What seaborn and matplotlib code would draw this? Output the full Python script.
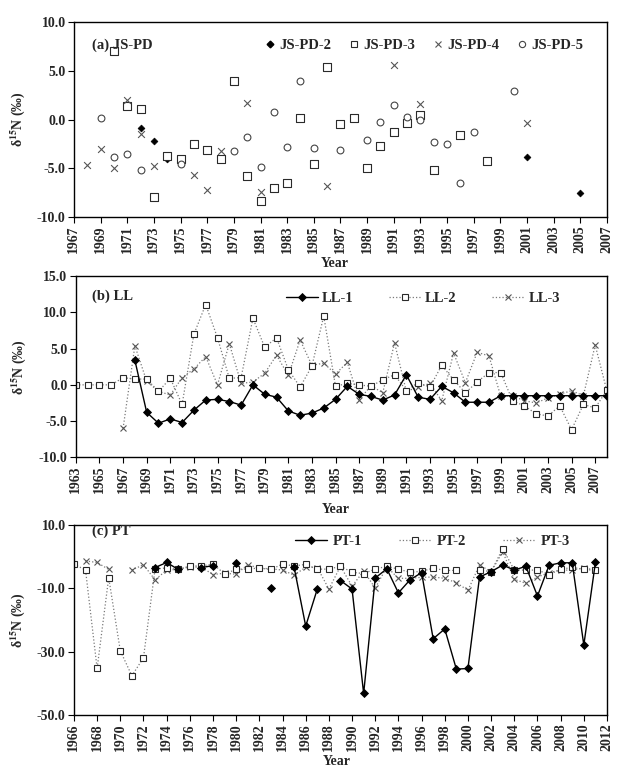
import matplotlib

matplotlib.use("Agg")
import matplotlib.pyplot as plt
import numpy as np
import pandas as pd
import seaborn as sns
from matplotlib.lines import Line2D

# ---- (a) JS-PD : scattered points only ----
pd2_years = [1972, 1973, 1974, 1975, 2001, 2005]
pd2_vals = [-0.9, -2.2, -4.1, -4.4, -3.8, -7.5]

pd3_years = [1970, 1971, 1972, 1973, 1974, 1975, 1976, 1977, 1978, 1979, 1980,
             1981, 1982, 1983, 1984, 1985, 1986, 1987, 1988, 1989, 1990, 1991,
             1992, 1993, 1994, 1996, 1998]
pd3_vals = [7.0, 1.4, 1.1, -7.9, -3.7, -4.0, -2.5, -3.1, -4.0, 4.0, -5.8,
            -8.4, -7.0, -6.5, 0.2, -4.6, 5.4, -0.5, 0.2, -5.0, -2.7, -1.3,
            -0.4, 0.5, -5.2, -1.6, -4.3]

pd4_years = [1968, 1969, 1970, 1971, 1972, 1973, 1976, 1977, 1978, 1980, 1981,
             1986, 1991, 1993, 2001]
pd4_vals = [-4.7, -3.0, -5.0, 2.0, -1.5, -4.8, -5.7, -7.2, -3.2, 1.7, -7.4,
            -6.8, 5.6, 1.6, -0.4]

pd5_years = [1969, 1970, 1971, 1972, 1975, 1979, 1980, 1981, 1982, 1983, 1984,
             1985, 1987, 1989, 1990, 1991, 1992, 1993, 1994, 1995, 1996, 1997,
             2000]
pd5_vals = [0.2, -3.8, -3.5, -5.2, -4.6, -3.2, -1.8, -4.9, 0.8, -2.8, 4.0,
            -2.9, -3.1, -2.1, -0.3, 1.5, 0.3, -0.1, -2.3, -2.5, -6.5, -1.3,
            2.9]

# ---- (b) LL : 1963-2008 ----
nan = np.nan
ll_years = list(range(1963, 2009))
ll1 = [nan, nan, nan, nan, nan,
       3.4, -3.8, -5.3, -4.7, -5.2, -3.5, -2.1, -2.0, -2.3, -2.8,
       0.0, -1.3, -1.7, -3.6, -4.2, -3.9, -3.2, -2.0, -0.2, -1.3,
       -1.6, -2.1, -1.4, 1.4, -1.7, -2.0, -0.2, -1.1, -2.4, -2.4,
       -2.4, -1.5, -1.5, -1.5, -1.5, -1.5, -1.5, -1.5, -1.5, -1.5, -1.5]
ll2 = [0.0, 0.0, 0.0, 0.0, 1.0,
       0.8, 0.8, -0.9, 0.9, -2.7, 7.0, 11.1, 6.5, 0.9, 1.0,
       9.2, 5.2, 6.5, 2.1, -0.3, 2.6, 9.5, -0.2, 0.2, 0.0,
       -0.2, 0.7, 1.4, -0.8, 0.3, -0.3, 2.7, 0.7, -1.1, 0.4,
       1.7, 1.7, -2.2, -2.9, -4.0, -4.3, -2.9, -6.2, -2.7, -3.2, -0.7]
ll3 = [nan, nan, nan, nan, -6.0,
       5.4, 0.5, -0.9, -1.4, 1.0, 2.2, 3.9, 0.0, 5.7, 0.2,
       0.4, 1.6, 4.1, 1.3, 6.2, 2.7, 3.0, 1.5, 3.1, -2.1,
       -0.1, -1.1, 5.8, -0.9, -0.3, 0.2, -2.2, 4.4, 0.3, 4.5,
       4.0, -1.6, -1.5, -2.2, -2.5, -1.8, -1.3, -0.8, -1.5, 5.5, -0.9]

# ---- (c) PT : 1966-2011 ----
pt_years = list(range(1966, 2012))
pt1 = [nan, nan, nan, nan, nan, nan, nan,
       -3.4, -1.8, -4.0, nan, -3.4, -2.8, nan, -1.9, nan, nan, -10.0, nan,
       -3.3, -21.9, -10.2, nan, -7.5, -10.2, -43.2, -6.7, -3.8, -11.4,
       -7.3, -5.0, -25.9, -22.8, -35.5, -35.3, -6.4, -4.7, -2.6, -4.2,
       -3.0, -12.4, -2.7, -1.9, -1.9, -27.9, -1.8]
pt2 = [-2.3, -4.2, -35.3, -6.6, -29.7, -37.6, -31.9,
       -3.9, -3.5, -4.0, -2.9, -2.9, -2.3, -5.4, -4.0, -3.8, -3.6, -4.0, -2.3,
       -2.9, -2.4, -3.9, -3.9, -3.0, -4.9, -5.3, -3.9, -3.0, -3.9,
       -4.9, -4.6, -3.6, -4.3, -4.3, nan, -4.2, -4.7, 2.6, -4.2,
       -4.2, -4.2, -5.6, -4.0, -3.3, -4.0, -4.3]
pt3 = [nan, -1.3, -1.8, -4.0, nan, -4.2, -2.5,
       -7.3, -4.2, -4.0, -3.2, -3.3, -5.6, -5.2, -5.5, -2.5, -3.6, -3.8, -4.2,
       -5.8, -3.3, -3.4, -10.2, -3.0, -9.3, -4.5, -9.9, -3.2, -6.8,
       -6.8, -6.5, -6.4, -6.8, -8.2, -10.6, -2.6, -4.7, 1.6, -7.1,
       -8.4, -6.4, -5.0, -4.2, -4.2, -3.5, -4.2]

sns.set_theme(style="white")
plt.rcParams["font.family"] = ["Liberation Serif", "DejaVu Serif"]
plt.rcParams["font.weight"] = "bold"
plt.rcParams["mathtext.fontset"] = "stix"
plt.rcParams["axes.unicode_minus"] = False

FS = 10
SOLID = dict(marker="D", ms=3.6, mfc="black", mec="black", mew=0.6,
             color="black", lw=1.0, ls="-")
SQUARE = dict(marker="s", ms=5.0, mfc="white", mec="#2a2a2a", mew=0.8,
              color="#7a7a7a", lw=0.9, ls=":")
CROSS = dict(marker="x", ms=5.0, mec="#555555", mew=0.8,
             color="#7a7a7a", lw=0.9, ls=":")


def draw_line(ax, years, vals, style):
    df = pd.DataFrame({"year": years, "value": vals})
    df["seg"] = df["value"].isna().cumsum()
    df = df.dropna()
    sns.lineplot(data=df, x="year", y="value", units="seg", estimator=None,
                 ax=ax, **style)


def style_axes(ax, xmin, xmax, ymin, ymax, ystep, title, tx, ty, xlast=None):
    xlast = xmax if xlast is None else xlast
    ax.set_xlim(xmin, xmax)
    ax.set_ylim(ymin, ymax)
    ax.set_xticks(np.arange(xmin, xlast + 1, 2))
    ax.set_xticklabels([str(y) for y in range(xmin, xlast + 1, 2)],
                       rotation=90, fontsize=FS, fontweight="bold")
    yt = np.arange(ymin, ymax + 0.1, ystep)
    ax.set_yticks(yt)
    ax.set_yticklabels([f"{v:.1f}" for v in yt], fontsize=FS,
                       fontweight="bold")
    ax.tick_params(direction="out", length=4, width=0.8, color="black",
                   pad=2, bottom=True, left=True)
    for sp in ax.spines.values():
        sp.set_color("black")
        sp.set_linewidth(1.0)
    ax.set_xlabel("Year", fontsize=FS, fontweight="bold")
    ax.set_ylabel(r"δ$^{15}$N (‰)", fontsize=FS, fontweight="bold")
    ax.text(tx, ty, title, transform=ax.transAxes, fontsize=FS + 0.5,
            fontweight="bold", va="center", ha="left")


fig = plt.figure(figsize=(6.43, 7.75), dpi=100)
fig.patch.set_facecolor("white")
ax_a = fig.add_axes([0.115, 0.720, 0.829, 0.2516])
ax_b = fig.add_axes([0.118, 0.410, 0.826, 0.2335])
ax_c = fig.add_axes([0.115, 0.0774, 0.829, 0.245])

# panel (a)
sns.scatterplot(x=pd2_years, y=pd2_vals, marker="D", s=12, color="black",
                edgecolor="black", linewidth=0.5, ax=ax_a)
sns.scatterplot(x=pd3_years, y=pd3_vals, marker="s", s=26, facecolor="white",
                edgecolor="#2a2a2a", linewidth=0.8, ax=ax_a)
sns.scatterplot(x=pd4_years, y=pd4_vals, marker="x", s=24, color="#555555",
                linewidth=0.8, ax=ax_a)
sns.scatterplot(x=pd5_years, y=pd5_vals, marker="o", s=24, facecolor="white",
                edgecolor="#444444", linewidth=0.8, ax=ax_a)
style_axes(ax_a, 1967, 2007, -10, 10, 5, "(a) JS-PD", 0.034, 0.882)
handles_a = [
    Line2D([], [], ls="", marker="D", ms=3.4, mfc="black", mec="black"),
    Line2D([], [], ls="", marker="s", ms=4.5, mfc="white", mec="#2a2a2a", mew=0.8),
    Line2D([], [], ls="", marker="x", ms=4.5, mec="#555555", mew=0.8),
    Line2D([], [], ls="", marker="o", ms=4.5, mfc="white", mec="#444444", mew=0.8),
]
ax_a.legend(handles_a, ["JS-PD-2", "JS-PD-3", "JS-PD-4", "JS-PD-5"], ncol=4,
            loc="center left", bbox_to_anchor=(0.36, 0.882), frameon=False,
            handlelength=0.6, handletextpad=0.3, columnspacing=1.3,
            borderpad=0, borderaxespad=0,
            prop={"family": "Liberation Serif", "weight": "bold", "size": FS + 0.5})

# panel (b)
draw_line(ax_b, ll_years, ll3, CROSS)
draw_line(ax_b, ll_years, ll2, SQUARE)
draw_line(ax_b, ll_years, ll1, SOLID)
style_axes(ax_b, 1963, 2008, -10, 15, 5, "(b) LL", 0.03, 0.89, xlast=2007)
handles_b = [Line2D([], [], **s) for s in (SOLID, SQUARE, CROSS)]
ax_b.legend(handles_b, ["LL-1", "LL-2", "LL-3"], ncol=3, loc="center left",
            bbox_to_anchor=(0.395, 0.878), frameon=False, handlelength=2.2,
            handletextpad=0.3, columnspacing=2.4, borderpad=0, borderaxespad=0,
            prop={"family": "Liberation Serif", "weight": "bold", "size": FS + 0.5})

# panel (c)
draw_line(ax_c, pt_years, pt3, CROSS)
draw_line(ax_c, pt_years, pt2, SQUARE)
draw_line(ax_c, pt_years, pt1, SOLID)
style_axes(ax_c, 1966, 2012, -50, 10, 20, "(c) PT", 0.034, 0.968)
handles_c = [Line2D([], [], **s) for s in (SOLID, SQUARE, CROSS)]
ax_c.legend(handles_c, ["PT-1", "PT-2", "PT-3"], ncol=3, loc="center left",
            bbox_to_anchor=(0.415, 0.916), frameon=False, handlelength=2.2,
            handletextpad=0.4, columnspacing=2.5, borderpad=0, borderaxespad=0,
            prop={"family": "Liberation Serif", "weight": "bold", "size": FS + 0.5})

ax_a.yaxis.set_label_coords(-0.088, 0.5)
ax_b.yaxis.set_label_coords(-0.09, 0.5)
ax_c.yaxis.set_label_coords(-0.088, 0.5)
ax_a.xaxis.set_label_coords(0.49, -0.205)
ax_b.xaxis.set_label_coords(0.49, -0.254)
ax_c.xaxis.set_label_coords(0.494, -0.21)

fig.savefig("out.png", dpi=100, facecolor="white")
